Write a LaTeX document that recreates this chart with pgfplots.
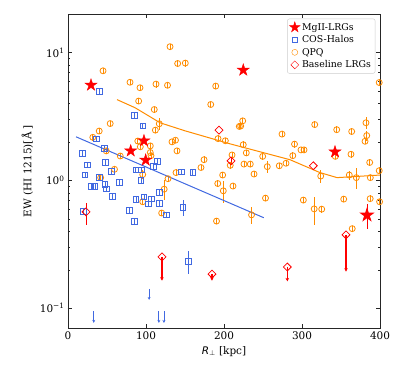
\documentclass[border=0pt]{standalone}
\usepackage{pgfplots}
\pgfplotsset{compat=1.18}
\usepackage{pgfplotstable}
\usepackage{fontspec}
\setmainfont{DejaVu Serif}
\setsansfont{DejaVu Sans}
\usetikzlibrary{arrows.meta}

\definecolor{qpqorange}{RGB}{255,140,0}
\definecolor{cosblue}{RGB}{65,105,225}

% filled five-point star, like matplotlib's '*'
\pgfdeclareplotmark{fstar}{%
  \pgfpathmoveto{\pgfpointpolar{90}{\pgfplotmarksize}}%
  \pgfpathlineto{\pgfpointpolar{126}{0.382\pgfplotmarksize}}%
  \pgfpathlineto{\pgfpointpolar{162}{\pgfplotmarksize}}%
  \pgfpathlineto{\pgfpointpolar{198}{0.382\pgfplotmarksize}}%
  \pgfpathlineto{\pgfpointpolar{234}{\pgfplotmarksize}}%
  \pgfpathlineto{\pgfpointpolar{270}{0.382\pgfplotmarksize}}%
  \pgfpathlineto{\pgfpointpolar{306}{\pgfplotmarksize}}%
  \pgfpathlineto{\pgfpointpolar{342}{0.382\pgfplotmarksize}}%
  \pgfpathlineto{\pgfpointpolar{18}{\pgfplotmarksize}}%
  \pgfpathlineto{\pgfpointpolar{54}{0.382\pgfplotmarksize}}%
  \pgfpathclose\pgfusepathqfillstroke}

% QPQ: x [kpc], EW, relative error
\pgfplotstableread{
x y e
130.8 11.1 0.05
140.6 8.20 0.05
150.4 8.26 0.06
44.9 7.19 0.05
79.5 5.85 0.05
92.3 5.30 0.05
112.8 5.66 0.06
127.6 5.54 0.05
90.6 4.17 0.05
110.6 3.58 0.05
189.4 5.46 0.05
183.0 3.92 0.05
54.1 2.78 0.05
117.0 2.77 0.11
112.0 2.47 0.05
40.0 2.43 0.05
31.8 2.17 0.06
49.0 1.70 0.05
67.0 1.55 0.05
89.5 2.03 0.06
92.7 1.83 0.06
105.5 1.86 0.05
105.5 1.65 0.06
106.4 1.56 0.05
133.3 2.00 0.06
137.8 2.06 0.05
139.7 1.70 0.06
59.6 1.22 0.05
41.9 1.05 0.05
95.8 1.11 0.08
128.2 1.03 0.05
138.5 1.15 0.06
174.4 1.45 0.06
170.5 1.26 0.05
192.3 2.12 0.06
201.7 2.04 0.05
210.3 1.58 0.05
208.0 1.31 0.06
198.3 1.10 0.06
192.0 0.944 0.06
211.5 0.902 0.05
219.6 2.64 0.05
123.3 0.853 0.18
224.0 2.92 0.06
221.4 2.66 0.05
224.7 1.90 0.06
228.6 1.64 0.05
225.6 1.34 0.05
233.7 1.34 0.05
238.5 1.12 0.05
199.1 0.828 0.20
249.6 1.54 0.06
255.5 1.28 0.11
270.9 1.30 0.06
279.5 1.36 0.05
274.4 2.30 0.05
290.4 1.92 0.06
288.2 1.56 0.06
298.7 1.73 0.06
302.6 1.73 0.06
316.3 2.73 0.06
324.0 1.08 0.12
344.5 2.49 0.06
342.7 1.54 0.05
363.7 2.41 0.06
362.8 1.60 0.06
360.6 1.10 0.08
369.6 1.05 0.18
382.0 2.82 0.11
383.0 2.24 0.09
380.8 2.02 0.05
386.8 1.38 0.06
387.6 1.05 0.05
399.0 5.82 0.06
399.0 1.19 0.06
399.5 0.68 0.06
253.2 0.726 0.05
235.3 0.537 0.15
190.4 0.48 0.05
95.8 0.68 0.06
120.1 0.555 0.05
301.7 0.701 0.05
315.6 0.598 0.25
325.3 0.595 0.06
353.5 0.713 0.05
387.4 0.719 0.06
364.4 0.419 0.05
}\qpq

% COS-Halos
\pgfplotstableread{
x y e
40.1 4.94 0.05
85.3 3.23 0.05
95.8 2.66 0.05
36.5 2.11 0.05
46.8 1.77 0.05
18.3 1.63 0.05
48.1 1.38 0.05
24.7 1.32 0.05
55.4 1.18 0.05
21.9 1.10 0.05
40.1 1.05 0.05
114.7 1.41 0.05
109.2 1.28 0.05
86.8 1.21 0.05
94.0 1.21 0.05
145.3 1.16 0.05
159.9 1.15 0.05
65.8 0.959 0.05
93.6 0.997 0.05
29.5 0.898 0.05
34.6 0.90 0.05
47.4 0.934 0.05
49.4 0.858 0.05
57.3 0.75 0.05
87.2 0.71 0.05
97.4 0.743 0.05
106.8 0.714 0.05
102.9 0.653 0.05
117.3 0.663 0.05
117.0 0.809 0.05
79.1 0.579 0.05
126.0 0.537 0.05
85.3 0.476 0.05
19.5 0.574 0.05
147.4 0.615 0.145
154.7 0.232 0.20
}\cos

% MgII-LRGs
\pgfplotstableread{
x y
29.5 5.56
80.4 1.70
97.4 2.04
99.6 1.44
224.7 7.28
342.3 1.67
}\mgii

% Baseline LRGs
\pgfplotstableread{
x y
120.5 0.252
184.6 0.185
281.2 0.21
356.4 0.375
193.6 2.47
314.5 1.30
}\base

\begin{document}
\begin{tikzpicture}
\begin{axis}[
    name=ax,
    width=312bp, height=314bp, scale only axis,
    xmin=0, xmax=400,
    ymode=log, ymin=0.07, ymax=20,
    xtick={0,100,200,300,400},
    ytick={0.1,1,10},
    yticklabels={10\textsuperscript{−1},10\textsuperscript{0},10\textsuperscript{1}},
    /pgf/number format/assume math mode=true,
    tick label style={font=\fontsize{10.5}{12}\selectfont},
    label style={font=\fontsize{10.5}{12}\selectfont},
    xlabel={{\sffamily\itshape R}$_{\perp}$ [kpc]},
    ylabel={EW (HI 1215)[Å ]},
    axis line style={black!85},
    tick style={black!85},
    major tick length=4bp, minor tick length=2.2bp,
    error bars/error bar style={line width=0.8bp},
    legend style={at={(0.985,0.985)}, anchor=north east, draw=black!20,
        rounded corners=2pt, font=\fontsize{9.4}{11}\selectfont,
        row sep=0bp, inner sep=2.2bp},
    legend cell align=left,
]
\addlegendimage{only marks, mark=fstar, mark size=5.5bp, red}
\addlegendentry{MgII-LRGs}
\addlegendimage{only marks, mark=square, mark size=2.8bp, cosblue}
\addlegendentry{COS-Halos}
\addlegendimage{only marks, mark=o, mark size=3bp, qpqorange}
\addlegendentry{QPQ}
\addlegendimage{only marks, mark=square, mark size=2.8bp, mark options={rotate=45}, red}
\addlegendentry{Baseline LRGs}

% QPQ
\addplot[forget plot, only marks, mark=o, mark size=3bp, qpqorange, line width=0.8bp,
    error bars/.cd, y dir=both, y explicit relative, error mark=none]
    table[x=x, y=y, y error=e]{\qpq};
% COS-Halos
\addplot[forget plot, only marks, mark=square, mark size=2.8bp, cosblue, line width=0.8bp,
    error bars/.cd, y dir=both, y explicit relative, error mark=none]
    table[x=x, y=y, y error=e]{\cos};
% COS-Halos upper limits
\addplot[forget plot, cosblue, line width=0.8bp, -{Stealth[length=3bp,width=3bp]}]
    coordinates {(33,0.095) (33,0.0767)};
\addplot[forget plot, cosblue, line width=0.8bp, -{Stealth[length=3bp,width=3bp]}]
    coordinates {(104,0.1416) (104,0.116)};
\addplot[forget plot, cosblue, line width=0.8bp, -{Stealth[length=3bp,width=3bp]}]
    coordinates {(116.5,0.095) (116.5,0.0767)};
\addplot[forget plot, cosblue, line width=0.8bp, -{Stealth[length=3bp,width=3bp]}]
    coordinates {(123,0.095) (123,0.0767)};

% fits
\addplot[forget plot, cosblue, line width=1bp] coordinates {(10.3,2.19) (251,0.51)};
\addplot[forget plot, qpqorange, line width=1bp] coordinates {
    (62.8,4.28) (85.9,3.70) (105,3.15) (118,2.82) (150,2.44) (207.7,1.93)
    (284.6,1.45) (323,1.15) (345,1.05) (400,1.10)};

% Baseline LRGs
\addplot[forget plot, red, line width=1.2bp, -{Stealth[length=3.5bp,width=3.5bp]}]
    coordinates {(120.5,0.252) (120.5,0.164)};
\addplot[forget plot, red, line width=1.2bp, -{Stealth[length=3.5bp,width=3.5bp]}]
    coordinates {(184.6,0.185) (184.6,0.164)};
\addplot[forget plot, red, line width=1.2bp, -{Stealth[length=3.5bp,width=3.5bp]}]
    coordinates {(281.2,0.21) (281.2,0.162)};
\addplot[forget plot, red, line width=1.2bp, -{Stealth[length=3.5bp,width=3.5bp]}]
    coordinates {(356.4,0.375) (356.4,0.193)};
\addplot[forget plot, only marks, mark=square, mark size=2.8bp, mark options={rotate=45},
    red, line width=0.8bp] table[x=x, y=y]{\base};
\addplot[forget plot, only marks, mark=square, mark size=2.8bp, mark options={rotate=45},
    red, line width=0.8bp, error bars/.cd, y dir=both, y explicit, error mark=none]
    coordinates {(23.1,0.567) += (0,0.103) -= (0,0.121) (209.0,1.42) +- (0,0.085)};

% MgII-LRGs
\addplot[forget plot, only marks, mark=fstar, mark size=6.3bp, red]
    table[x=x, y=y]{\mgii};
\addplot[forget plot, only marks, mark=fstar, mark size=6.3bp, red, line width=1bp,
    error bars/.cd, y dir=both, y explicit, error mark=none]
    coordinates {(383.3,0.534) += (0,0.124) -= (0,0.119)};
\end{axis}
\pgfresetboundingbox
\path ([shift={(-68bp,-50bp)}]ax.south west) rectangle ([shift={(27bp,14bp)}]ax.north east);
\end{tikzpicture}
\end{document}
